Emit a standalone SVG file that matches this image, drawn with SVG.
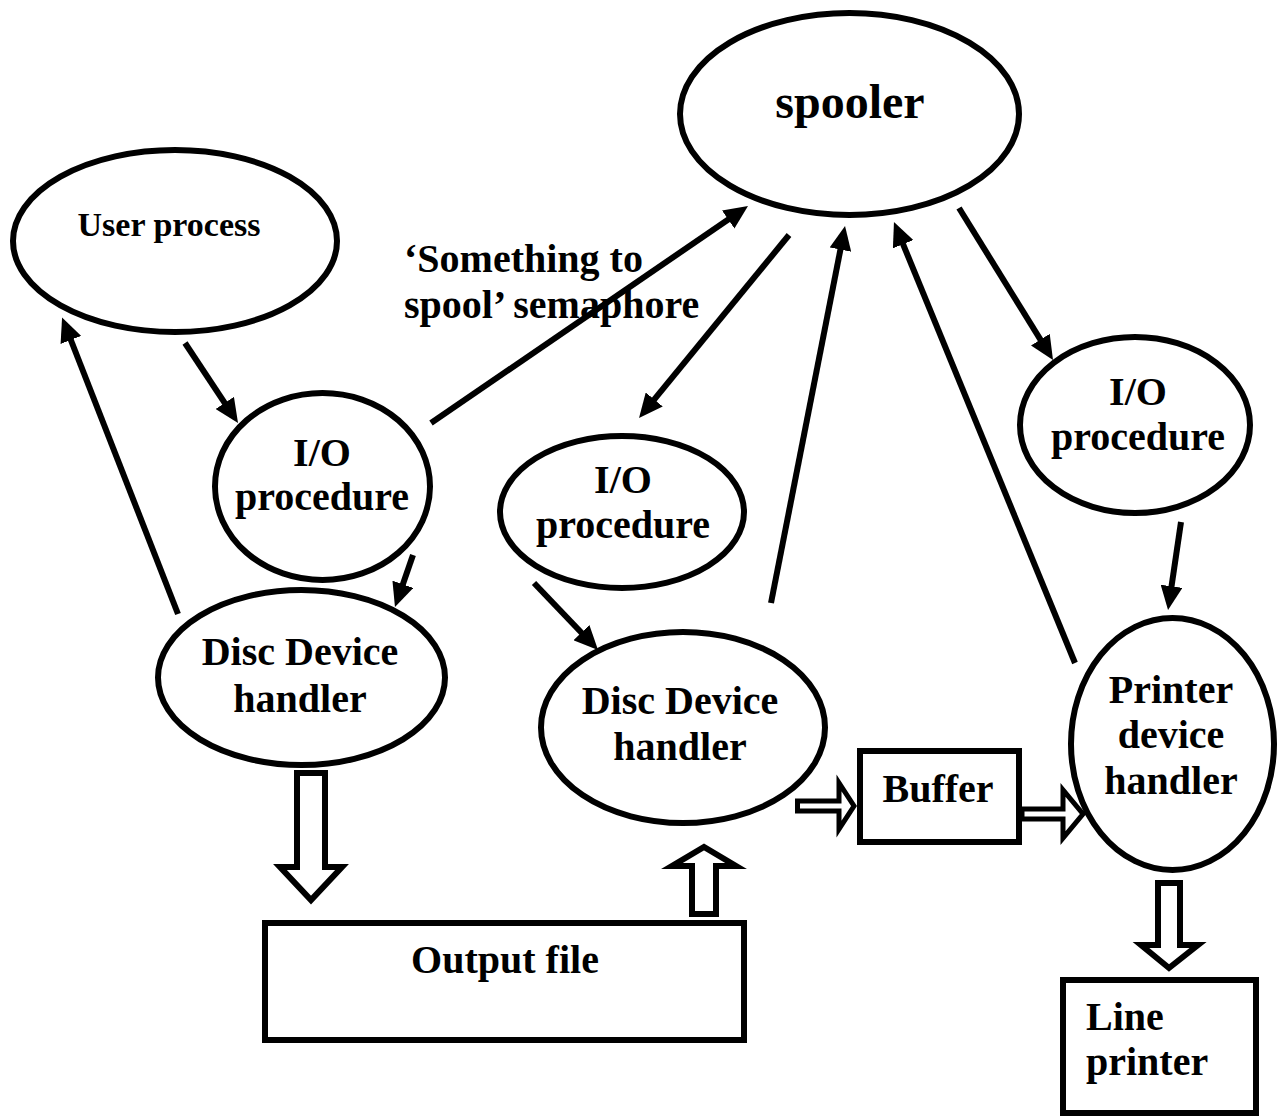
<svg xmlns="http://www.w3.org/2000/svg" width="1281" height="1118" viewBox="0 0 1281 1118">
<defs>
<style>
.n{fill:#fff;stroke:#000;stroke-width:6}
.t{font-family:"Liberation Serif","Times New Roman",serif;font-weight:bold;font-size:40px;fill:#000;text-anchor:middle}
.l{fill:none;stroke:#000;stroke-width:6}
.b{fill:#fff;stroke:#000;stroke-width:6;stroke-linejoin:miter}
</style>
<marker id="ah" markerUnits="userSpaceOnUse" markerWidth="26" markerHeight="22" refX="16" refY="11" orient="auto" viewBox="0 0 26 22">
<path d="M0,0 L24,11 L0,22 z" fill="#000"/>
</marker>
</defs>
<rect width="1281" height="1118" fill="#fff"/>
<g id="connectors">
<line class="l" x1="178" y1="614" x2="65" y2="325" marker-end="url(#ah)"/>
<line class="l" x1="185" y1="343" x2="233.6" y2="416.3" marker-end="url(#ah)"/>
<line class="l" x1="413" y1="555" x2="397.6" y2="599.4" marker-end="url(#ah)"/>
<line class="l" x1="431" y1="423" x2="741.4" y2="210.5" marker-end="url(#ah)"/>
<line class="l" x1="789" y1="235" x2="644.1" y2="411.8" marker-end="url(#ah)"/>
<line class="l" x1="534" y1="583" x2="592.5" y2="644.2" marker-end="url(#ah)"/>
<line class="l" x1="771" y1="603" x2="843.5" y2="233.9" marker-end="url(#ah)"/>
<line class="l" x1="1075" y1="663" x2="897" y2="229.4" marker-end="url(#ah)"/>
<line class="l" x1="959" y1="208" x2="1048.8" y2="353.2" marker-end="url(#ah)"/>
<line class="l" x1="1181" y1="522" x2="1169.2" y2="602.1" marker-end="url(#ah)"/>
<polygon class="b" points="297,773 325,773 325,867 342,867 311,900 280,867 297,867"/>
<polygon class="b" points="692,914 716,914 716,866 736,866 704,847 672,866 692,866"/>
<polygon class="b" style="stroke-width:5" points="797.5,801 839,801 839,783 854,806 839,829 839,811 797.5,811"/>
<polygon class="b" style="stroke-width:5" points="1022,809 1063,809 1063,790 1083,814 1063,838 1063,819 1022,819"/>
<polygon class="b" points="1158,883 1180,883 1180,945 1198,945 1169,968 1141,945 1158,945"/>
</g>
<g id="spooler">
<ellipse class="n" cx="849.5" cy="114" rx="169.5" ry="101"/>
<text class="t" x="850" y="118" style="font-size:48px">spooler</text>
</g>
<g id="user-process">
<ellipse class="n" cx="175" cy="241" rx="162" ry="91"/>
<text class="t" x="169" y="236" style="font-size:34px">User process</text>
</g>
<g id="semaphore-label">
<text class="t" x="404" y="272" style="text-anchor:start">‘Something to</text>
<text class="t" x="404" y="318" style="text-anchor:start">spool’ semaphore</text>
</g>
<g id="io-left">
<ellipse class="n" cx="322.5" cy="486.5" rx="107.5" ry="93.5"/>
<text class="t" x="322" y="466">I/O</text>
<text class="t" x="322" y="510">procedure</text>
</g>
<g id="io-middle">
<ellipse class="n" cx="622" cy="512" rx="122" ry="76"/>
<text class="t" x="623" y="493">I/O</text>
<text class="t" x="623" y="538">procedure</text>
</g>
<g id="io-right">
<ellipse class="n" cx="1135" cy="425" rx="115" ry="88"/>
<text class="t" x="1138" y="405">I/O</text>
<text class="t" x="1138" y="450">procedure</text>
</g>
<g id="disc-left">
<ellipse class="n" cx="301.5" cy="677.5" rx="143.5" ry="87.5"/>
<text class="t" x="300" y="665">Disc Device</text>
<text class="t" x="300" y="712">handler</text>
</g>
<g id="disc-middle">
<ellipse class="n" cx="683" cy="727.5" rx="142" ry="95.5"/>
<text class="t" x="680" y="714">Disc Device</text>
<text class="t" x="680" y="760">handler</text>
</g>
<g id="printer-handler">
<ellipse class="n" cx="1172.5" cy="744" rx="101.5" ry="126"/>
<text class="t" x="1171" y="703">Printer</text>
<text class="t" x="1171" y="748">device</text>
<text class="t" x="1171" y="794">handler</text>
</g>
<g id="buffer">
<rect class="n" x="860" y="751" width="159" height="91"/>
<text class="t" x="938" y="802">Buffer</text>
</g>
<g id="output-file">
<rect class="n" x="265" y="923" width="479" height="117"/>
<text class="t" x="505" y="973">Output file</text>
</g>
<g id="line-printer">
<rect class="n" x="1063" y="980" width="193" height="133"/>
<text class="t" x="1086" y="1030" style="text-anchor:start">Line</text>
<text class="t" x="1086" y="1075" style="text-anchor:start">printer</text>
</g>
</svg>
